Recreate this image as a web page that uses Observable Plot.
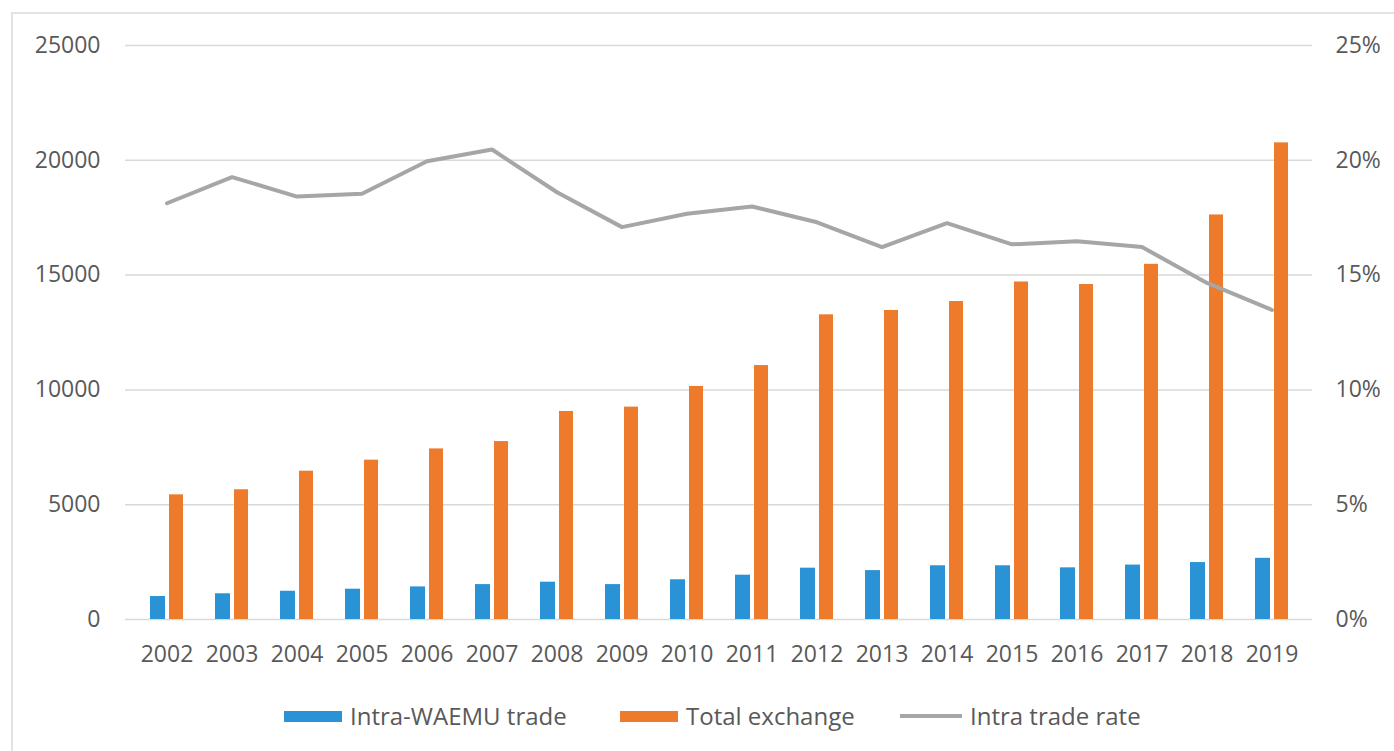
<!DOCTYPE html>
<html>
<head>
<meta charset="utf-8">
<script src="https://cdn.jsdelivr.net/npm/d3@7"></script>
<script src="https://cdn.jsdelivr.net/npm/@observablehq/plot@0.6"></script>
<style>
  html, body { margin: 0; padding: 0; background: #fff; }
  #wrap { position: relative; width: 1394px; height: 751px; overflow: hidden; font-family: "Open Sans", sans-serif; }
  #frame { position: absolute; left: 11px; top: 12px; width: 1400px; height: 760px; border: 2px solid #e3e3e3; box-sizing: border-box; }
  #chart { position: absolute; left: 0; top: 0; }
  .item { position: absolute; top: 701px; height: 30px; line-height: 30px; display: flex; align-items: center; font-size: 24px; color: #595959; white-space: nowrap; }
  .sw { width: 58px; height: 11px; margin-right: 8px; }
  .ln { width: 62px; height: 4px; margin-right: 8px; }
</style>
</head>
<body>
<div id="wrap">
  <div id="frame"></div>
  <div id="chart"></div>
  <div id="legend"></div>
</div>
<script>
const years = ["2002","2003","2004","2005","2006","2007","2008","2009","2010","2011","2012","2013","2014","2015","2016","2017","2018","2019"];
const intraTrade = [1000,1120,1230,1320,1420,1520,1625,1520,1730,1930,2235,2130,2340,2340,2250,2370,2480,2665];
const totalExchange = [5430,5650,6460,6940,7430,7750,9060,9250,10150,11060,13270,13460,13850,14700,14590,15470,17620,20760];
const tradeRate = [18.13,19.27,18.42,18.54,19.96,20.47,18.61,17.09,17.67,17.99,17.30,16.22,17.26,16.34,16.47,16.22,14.66,13.48];
const leftTicks = [0,5000,10000,15000,20000,25000];
const rightTickLabels = ["0%","5%","10%","15%","20%","25%"];
const seriesNames = ["Intra-WAEMU trade","Total exchange","Intra trade rate"];
const colors = ["#2a93d5","#ee7a2c","#a6a6a6"];
const legendLeft = [284, 620, 900];

const data = years.map((y, i) => ({year: y, intra: intraTrade[i], total: totalExchange[i], rate: tradeRate[i]}));

const chart = Plot.plot({
  width: 1394,
  height: 695,
  marginLeft: 125,
  marginRight: 82,
  marginTop: 45,
  marginBottom: 76,
  style: {fontSize: "23px", fontFamily: "Open Sans, sans-serif", color: "#595959", background: "transparent"},
  x: {type: "band", domain: years, padding: 0},
  y: {domain: [0, 25000]},
  marks: [
    Plot.gridY(leftTicks, {stroke: "#d9d9d9", strokeOpacity: 1, strokeWidth: 1.5}),
    Plot.barY(data, {x: "year", y: "intra", fill: colors[0], insetLeft: 16, insetRight: 34}),
    Plot.barY(data, {x: "year", y: "total", fill: colors[1], insetLeft: 35, insetRight: 16}),
    Plot.line(data, {x: "year", y: d => d.rate * 1000, stroke: colors[2], strokeWidth: 4, strokeLinejoin: "miter"}),
    Plot.axisY(leftTicks, {anchor: "left", tickSize: 0, tickPadding: 25, label: null, fill: "#595959",
      tickFormat: d => String(d)}),
    Plot.axisY(leftTicks, {anchor: "right", tickSize: 0, tickPadding: 23, label: null, textAnchor: "start", fill: "#595959",
      tickFormat: d => rightTickLabels[leftTicks.indexOf(d)]}),
    Plot.axisX({tickSize: 0, tickPadding: 26, label: null, fill: "#595959"})
  ]
});
document.getElementById("chart").appendChild(chart);

const legend = document.getElementById("legend");
seriesNames.forEach((name, i) => {
  const item = document.createElement("div");
  item.className = "item";
  item.style.left = legendLeft[i] + "px";
  const sw = document.createElement("div");
  sw.className = i < 2 ? "sw" : "ln";
  sw.style.background = colors[i];
  const t = document.createElement("span");
  t.textContent = name;
  item.appendChild(sw);
  item.appendChild(t);
  legend.appendChild(item);
});
</script>
</body>
</html>
